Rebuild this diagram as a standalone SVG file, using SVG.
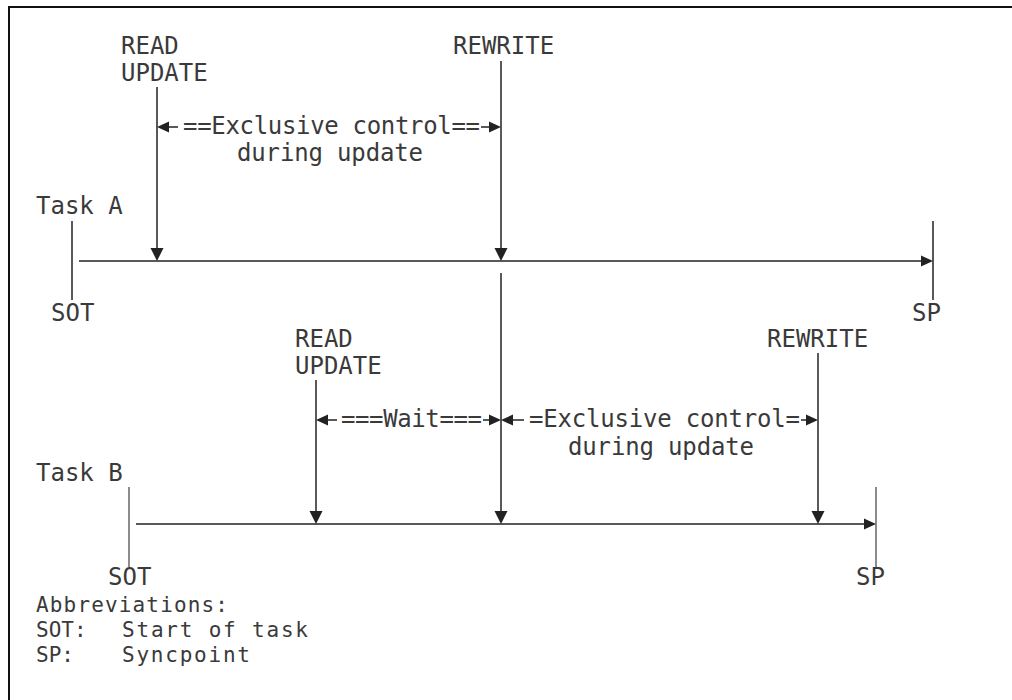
<svg xmlns="http://www.w3.org/2000/svg" width="1012" height="700" viewBox="0 0 1012 700">
<defs>
<style>
text{font-family:"DejaVu Sans Mono","Liberation Mono",monospace;font-size:24px;fill:#3a3a3a}
.sm{font-size:21px}
.ln{stroke:#222;stroke-width:1.5;fill:none}
.lt{stroke:#666;stroke-width:1.5;fill:none}
.ah{fill:#222;stroke:none}
</style>
</defs>
<rect width="1012" height="700" fill="#fff"/>
<path d="M9,700 V7 H1012" stroke="#111" stroke-width="2" fill="none"/>

<g id="taskA">
<text x="36" y="214">Task A</text>
<line class="ln" x1="72" y1="221" x2="72" y2="300"/>
<text x="51" y="321">SOT</text>
</g>
<g id="spA">
<line class="ln" x1="933" y1="221" x2="933" y2="300"/>
<text x="912" y="321">SP</text>
</g>
<g id="readA">
<text x="121" y="54">READ</text>
<text x="121" y="81">UPDATE</text>
</g>
<g id="rewriteA">
<text x="453" y="54">REWRITE</text>
</g>
<g id="exclA">
<text x="183" y="134" textLength="297" lengthAdjust="spacing">==Exclusive control==</text>
<text x="237" y="161" textLength="186" lengthAdjust="spacing">during update</text>
</g>

<g id="taskB">
<text x="36" y="481">Task B</text>
<line class="lt" x1="129" y1="487" x2="129" y2="567"/>
<text x="108" y="585">SOT</text>
</g>
<g id="spB">
<line class="lt" x1="876" y1="487" x2="876" y2="567"/>
<text x="856" y="585">SP</text>
</g>
<g id="readB">
<text x="295" y="347">READ</text>
<text x="295" y="374">UPDATE</text>
</g>
<g id="rewriteB">
<text x="767" y="347">REWRITE</text>
</g>
<g id="waitB">
<text x="341" y="427" textLength="141" lengthAdjust="spacing">===Wait===</text>
</g>
<g id="exclB">
<text x="529" y="427" textLength="271" lengthAdjust="spacing">=Exclusive control=</text>
<text x="568" y="455" textLength="186" lengthAdjust="spacing">during update</text>
</g>

<g id="legend">
<text class="sm" x="36" y="612" textLength="192" lengthAdjust="spacing">Abbreviations:</text>
<text class="sm" x="36" y="637">SOT:</text>
<text class="sm" x="122" y="637" textLength="186" lengthAdjust="spacing">Start of task</text>
<text class="sm" x="36" y="662">SP:</text>
<text class="sm" x="122" y="662" textLength="128" lengthAdjust="spacing">Syncpoint</text>
</g>

<g id="connectors">
<line class="ln" x1="79" y1="261" x2="922" y2="261"/>
<polygon class="ah" points="933,261 921,255.5 921,266.5"/>
<line class="ln" x1="157" y1="87" x2="157" y2="250"/>
<polygon class="ah" points="157,261 150.5,248 163.5,248"/>
<line class="ln" x1="501" y1="61" x2="501" y2="250"/>
<polygon class="ah" points="501,261 494.5,248 507.5,248"/>
<polygon class="ah" points="157,127 169,121.5 169,132.5"/>
<line class="ln" x1="169" y1="127" x2="178" y2="127"/>
<line class="ln" x1="481" y1="127" x2="489" y2="127"/>
<polygon class="ah" points="501,127 489,121.5 489,132.5"/>

<line class="ln" x1="136" y1="524" x2="865" y2="524"/>
<polygon class="ah" points="876,524 864,518.5 864,529.5"/>
<line class="ln" x1="316" y1="380" x2="316" y2="513"/>
<polygon class="ah" points="316,524 309.5,511 322.5,511"/>
<line class="ln" x1="501" y1="273" x2="501" y2="513"/>
<polygon class="ah" points="501,524 494.5,511 507.5,511"/>
<line class="ln" x1="818" y1="353" x2="818" y2="513"/>
<polygon class="ah" points="818,524 811.5,511 824.5,511"/>
<polygon class="ah" points="316,420 328,414.5 328,425.5"/>
<line class="ln" x1="328" y1="420" x2="337" y2="420"/>
<line class="ln" x1="483" y1="420" x2="490" y2="420"/>
<polygon class="ah" points="501,420 489,414.5 489,425.5"/>
<polygon class="ah" points="501,420 513,414.5 513,425.5"/>
<line class="ln" x1="513" y1="420" x2="524" y2="420"/>
<line class="ln" x1="801" y1="420" x2="807" y2="420"/>
<polygon class="ah" points="818,420 806,414.5 806,425.5"/>
</g>
</svg>
